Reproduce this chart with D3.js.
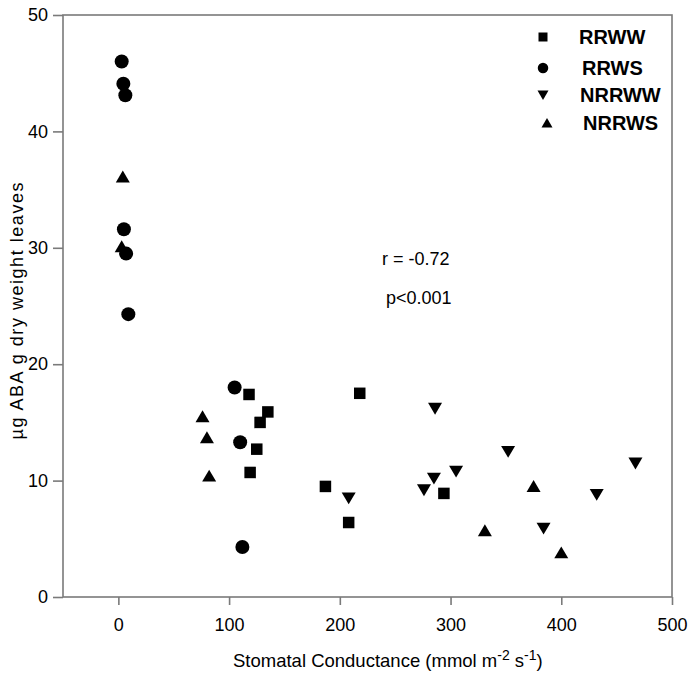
<!DOCTYPE html>
<html>
<head>
<meta charset="utf-8">
<script src="https://cdn.jsdelivr.net/npm/d3@7/dist/d3.min.js"></script>
<style>
  html, body { margin: 0; padding: 0; background: #fff; }
  text { font-family: "Liberation Sans", Arial, sans-serif; fill: #000; }
</style>
</head>
<body>
<svg id="chart" width="689" height="691"></svg>
<script>
// ---- data ----
const seriesNames = ["RRWW", "RRWS", "NRRWW", "NRRWS"];
const RRWW_x = [118, 135, 128, 125, 119, 218, 187, 208, 294];
const RRWW_y = [17.4, 15.9, 15.0, 12.7, 10.7, 17.5, 9.5, 6.4, 8.9];
const RRWS_x = [3, 4.5, 6.3, 5, 7, 9, 105, 110, 112];
const RRWS_y = [46.0, 44.1, 43.1, 31.6, 29.5, 24.3, 18.0, 13.3, 4.3];
const NRRWW_x = [286, 352, 305, 285, 276, 208, 384, 432, 467];
const NRRWW_y = [16.2, 12.5, 10.8, 10.2, 9.2, 8.5, 5.9, 8.8, 11.5];
const NRRWS_x = [4, 3, 76, 80, 82, 331, 375, 400];
const NRRWS_y = [36.1, 30.1, 15.5, 13.7, 10.4, 5.7, 9.5, 3.8];
const xTicks = [0, 100, 200, 300, 400, 500];
const yTicks = [0, 10, 20, 30, 40, 50];
const statLines = ["r = -0.72", "p<0.001"];

const series = [
  {name: seriesNames[0], xs: RRWW_x, ys: RRWW_y, sym: "square"},
  {name: seriesNames[1], xs: RRWS_x, ys: RRWS_y, sym: "circle"},
  {name: seriesNames[2], xs: NRRWW_x, ys: NRRWW_y, sym: "down"},
  {name: seriesNames[3], xs: NRRWS_x, ys: NRRWS_y, sym: "up"}
];

const svg = d3.select("#chart");
const L = 63, R = 672, T = 15, B = 597;
const x = d3.scaleLinear().domain([-50, 500]).range([L, R]);
const y = d3.scaleLinear().domain([0, 50]).range([B, T]);
const axisColor = "#7a7a7a";

function symPath(sym, s) {
  const h = s / 2;
  if (sym === "square") return `M${-h},${-h}H${h}V${h}H${-h}Z`;
  if (sym === "circle") return d3.symbol(d3.symbolCircle, Math.PI * h * h)();
  if (sym === "up") return `M0,${-h * 0.9}L${h},${h * 0.8}L${-h},${h * 0.8}Z`;
  if (sym === "down") return `M0,${h * 0.9}L${h},${-h * 0.8}L${-h},${-h * 0.8}Z`;
}
const symSize = {square: 11.5, circle: 14, up: 14, down: 14};

// frame
svg.append("rect").attr("x", L).attr("y", T).attr("width", R - L).attr("height", B - T)
  .attr("fill", "none").attr("stroke", axisColor).attr("stroke-width", 1.6);

// x axis
const gx = svg.append("g").attr("transform", `translate(0,${B})`)
  .call(d3.axisBottom(x).tickValues(xTicks).tickSize(8).tickPadding(13).tickFormat(d3.format("d")));
gx.select(".domain").remove();
gx.selectAll("line").attr("stroke", axisColor).attr("stroke-width", 1.6);
gx.selectAll("text").attr("font-size", 18).attr("font-family", "Liberation Sans, Arial, sans-serif");

// y axis
const gy = svg.append("g").attr("transform", `translate(${L},0)`)
  .call(d3.axisLeft(y).tickValues(yTicks).tickSize(10).tickPadding(5).tickFormat(d3.format("d")));
gy.select(".domain").remove();
gy.selectAll("line").attr("stroke", axisColor).attr("stroke-width", 1.6);
gy.selectAll("text").attr("font-size", 18).attr("font-family", "Liberation Sans, Arial, sans-serif");

// points
series.forEach(s => {
  svg.append("g").selectAll("path").data(s.xs.map((v, i) => [v, s.ys[i]]))
    .enter().append("path")
    .attr("d", symPath(s.sym, symSize[s.sym]))
    .attr("transform", d => `translate(${x(d[0])},${y(d[1])})`)
    .attr("fill", "#000");
});

// legend
const legY = [37, 68, 95, 123];
const legTx = [579, 582, 580, 583];
const legSym = {square: 9, circle: 10.5, up: 11, down: 11};
series.forEach((s, i) => {
  svg.append("path").attr("d", symPath(s.sym, legSym[s.sym]))
    .attr("transform", `translate(${s.sym === "up" ? 547 : 543},${legY[i]})`).attr("fill", "#000");
  svg.append("text").attr("x", legTx[i]).attr("y", legY[i] + 7)
    .attr("font-size", 20).attr("font-weight", "bold")
    .text(s.name);
});

// stats
svg.append("text").attr("x", 382).attr("y", 265).attr("font-size", 18).text(statLines[0]);
svg.append("text").attr("x", 386).attr("y", 304).attr("font-size", 18).text(statLines[1]);

// x title
const xt = svg.append("text").attr("x", 233).attr("y", 667).attr("font-size", 18.5);
xt.append("tspan").text("Stomatal Conductance (mmol m");
xt.append("tspan").attr("dy", -7).attr("font-size", 14).text("-2");
xt.append("tspan").attr("dy", 7).text(" s");
xt.append("tspan").attr("dy", -7).attr("font-size", 14).text("-1");
xt.append("tspan").attr("dy", 7).text(")");

// y title
svg.append("text").attr("transform", "translate(23,311) rotate(-90)")
  .attr("text-anchor", "middle").attr("font-size", 18)
  .attr("textLength", 257).attr("lengthAdjust", "spacing")
  .text("\u00b5g ABA g dry weight leaves");
</script>
</body>
</html>
